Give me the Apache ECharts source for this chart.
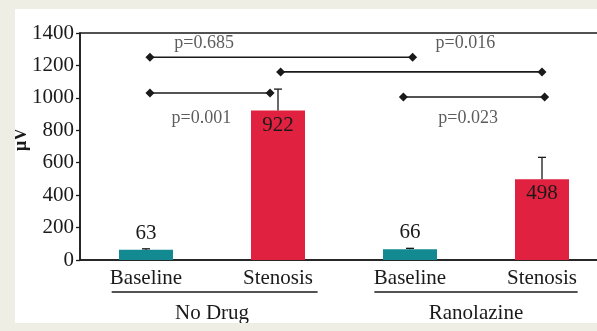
<!DOCTYPE html>
<html><head><meta charset="utf-8">
<script src="https://cdn.jsdelivr.net/npm/echarts@6/dist/echarts.min.js"></script>
<style>
html,body{margin:0;padding:0;background:#eeeee4;width:597px;height:331px;overflow:hidden;}
#c{position:absolute;left:15px;top:9px;width:582px;height:314px;background:#fff;}
</style></head>
<body><div id="c"></div>
<script>
// ---- data ----
const categories = ['Baseline', 'Stenosis', 'Baseline', 'Stenosis'];
const groups = ['No Drug', 'Ranolazine'];
const values = [63, 922, 66, 498];
const errors = [6, 132, 6, 135];
const yTicks = [0, 200, 400, 600, 800, 1000, 1200, 1400];
// significance brackets (x in category units, y in µV)
const bracketStart = [0.03, 1.02, 0.03, 1.95];
const bracketEnd = [2.02, 3.00, 0.94, 3.02];
const bracketY = [1250, 1160, 1030, 1005];
const pLabels = ['p=0.685', 'p=0.016', 'p=0.001', 'p=0.023'];
const pLabelX = [0.44, 2.42, 0.42, 2.44];
const pLabelY = [1338, 1338, 876, 876];
// group underline spans (category units)
const groupSpanStart = [-0.26, 1.73];
const groupSpanEnd = [1.30, 3.27];

const FONT = 'Liberation Serif';
const INK = '#1a1a1a';
const TEAL = '#138a92';
const RED = '#e0213f';

const chart = echarts.init(document.getElementById('c'), null, {renderer: 'canvas'});

const series = [];
series.push({
  type: 'bar', xAxisIndex: 0, yAxisIndex: 0,
  barWidth: 54,
  data: values.map((v, i) => ({
    value: v,
    itemStyle: {color: categories[i] === 'Baseline' ? TEAL : RED},
    label: {
      show: true,
      position: v > 300 ? 'insideTop' : 'top',
      distance: v > 300 ? 4 : 6,
      color: INK, fontFamily: FONT, fontSize: 21
    }
  })),
  z: 2
});
series.push({
  type: 'custom', xAxisIndex: 0, yAxisIndex: 0,
  data: values.map((v, i) => [i, v, errors[i]]),
  renderItem: function (params, api) {
    const i = api.value(0), v = api.value(1), e = api.value(2);
    const p0 = api.coord([i, v]);
    const p1 = api.coord([i, v + e]);
    const half = 4;
    return {
      type: 'group',
      children: [
        {type: 'line', shape: {x1: p0[0], y1: p0[1], x2: p1[0], y2: p1[1]}, style: {stroke: INK, lineWidth: 1.3}},
        {type: 'line', shape: {x1: p1[0] - half, y1: p1[1], x2: p1[0] + half, y2: p1[1]}, style: {stroke: INK, lineWidth: 1.3}}
      ]
    };
  },
  z: 3
});
for (let k = 0; k < bracketY.length; k++) {
  series.push({
    type: 'line', xAxisIndex: 2, yAxisIndex: 0,
    data: [[bracketStart[k], bracketY[k]], [bracketEnd[k], bracketY[k]]],
    symbol: 'diamond', symbolSize: [9, 9],
    lineStyle: {color: INK, width: 1.6},
    itemStyle: {color: INK},
    animation: false, z: 4
  });
}
series.push({
  type: 'scatter', xAxisIndex: 2, yAxisIndex: 0,
  symbolSize: 0,
  data: pLabels.map((t, k) => ({value: [pLabelX[k], pLabelY[k]], name: t})),
  label: {show: true, position: 'inside', formatter: p => p.name, color: '#333', fontFamily: FONT, fontSize: 18},
  z: 5
});

chart.setOption({
  animation: false,
  backgroundColor: '#fff',
  grid: {left: 65, top: 24, width: 528, height: 227, outerBoundsMode: 'none', containLabel: false,
    show: true, borderColor: INK, borderWidth: 1.5, backgroundColor: 'transparent'},
  xAxis: [
    {
      type: 'category', data: categories, position: 'bottom',
      axisLine: {onZero: false, lineStyle: {color: INK, width: 1.5}},
      axisTick: {show: false},
      axisLabel: {color: INK, fontFamily: FONT, fontSize: 21, margin: 8}
    },
    {
      type: 'category', data: groups, position: 'bottom',
      axisLine: {show: false, onZero: false}, axisTick: {show: false},
      axisLabel: {color: INK, fontFamily: FONT, fontSize: 21, margin: 43, interval: 0}
    },
    {type: 'value', min: -0.5, max: 3.5, show: false}
  ],
  yAxis: {
    type: 'value', min: 0, max: 1400, interval: 200,
    name: 'μV', nameLocation: 'middle', nameGap: 50, nameRotate: 90, nameMoveOverlap: false,
    nameTextStyle: {color: INK, fontFamily: FONT, fontSize: 18, fontWeight: 'bold', padding: [0, 0, 0, 14]},
    axisLine: {show: true, onZero: false, lineStyle: {color: INK, width: 1.5}},
    axisTick: {show: true, length: 4, lineStyle: {color: INK, width: 1.3}},
    axisLabel: {color: INK, fontFamily: FONT, fontSize: 21, margin: 6,
      formatter: v => yTicks.indexOf(v) >= 0 ? String(v) : ''},
    splitLine: {show: false}
  },
  series: series
});

// group underlines
const underY = 283;
const graphics = groupSpanStart.map((s, g) => {
  const x1 = chart.convertToPixel({xAxisIndex: 2}, s);
  const x2 = chart.convertToPixel({xAxisIndex: 2}, groupSpanEnd[g]);
  return {type: 'line', shape: {x1: x1, y1: underY, x2: x2, y2: underY}, style: {stroke: INK, lineWidth: 1.5}};
});
chart.setOption({graphic: graphics});
</script>
</body></html>
